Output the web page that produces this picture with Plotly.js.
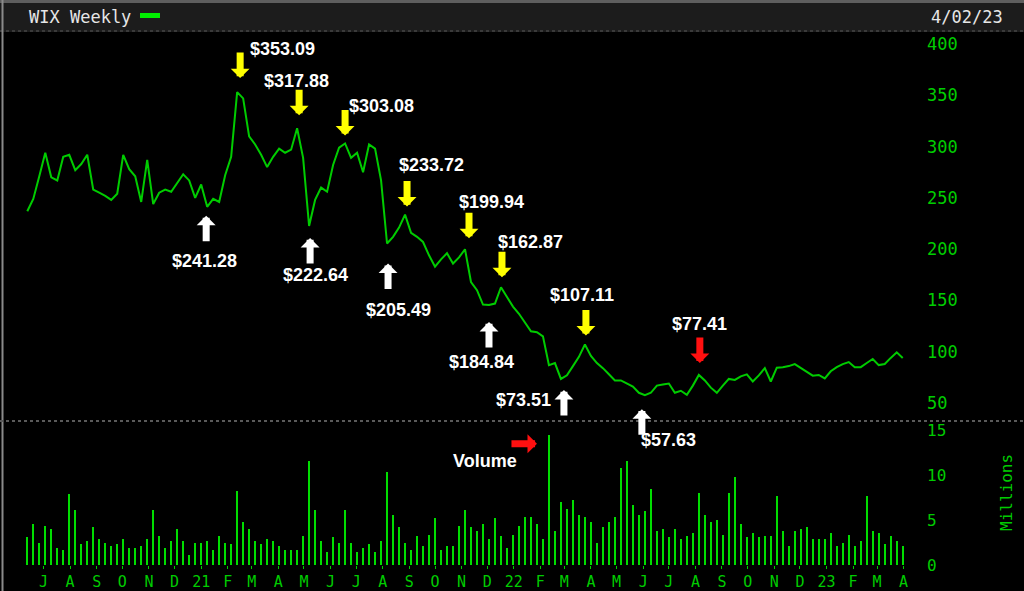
<!DOCTYPE html>
<html><head><meta charset="utf-8">
<script src="https://cdn.plot.ly/plotly-3.0.1.min.js"></script>
<style>html,body{margin:0;padding:0;background:#000;overflow:hidden}#chart{width:1024px;height:591px}</style>
</head><body><div id="chart"></div>
<script>
// ---- data (weekly closes and volumes) ----
const firstWeek = '2020-06-12';
const price = [
237,249,271,294,270,267,290,292,277,283,
292,258,255,252,248,254,292,278,271,246,
287,244,255,258,256,264,273,267,250,263,
241.28,249,246,272,290,353.09,347,310,302,292,
280,290,298,294,297,317.88,289,222.64,248,260,
256,282,299,303.08,289,294,275,302,298,267,
205.49,212,221,233.72,216,212,207,194,183,190,
196,186,192,199.94,168,160,146,145.6,147,162.87,
154,144,137,129,120,119,115,87,89,73.51,
77,86,95,107.11,96,89,84,78,72,72,
69,66,60,57.63,60,67,68,69,60,62,
58,67,77.41,72,65,60,67,73.5,72.5,76,
78,71,77,84,71,84.5,85,86,88,84,
80.6,76.7,77.4,74,81,85,88,90,85,85,
89,93,87,88,94,99.5,94
];
const volume = [
3.1,4.6,2.5,4.4,4.0,1.9,1.7,7.9,6.2,2.3,
2.7,4.2,2.9,2.5,2.1,2.3,2.9,1.9,1.9,2.1,
2.9,6.2,3.2,1.9,2.7,4.0,2.7,1.1,2.5,2.5,
2.7,1.7,3.2,2.5,2.3,8.3,4.8,4.0,2.7,2.3,
2.9,2.7,2.1,1.7,1.7,1.7,3.2,11.6,6.2,2.7,
1.5,3.1,2.5,6.2,2.5,1.5,1.9,2.3,1.5,2.7,
10.4,5.6,4.2,2.5,1.7,3.2,2.1,3.4,5.2,1.7,
2.1,2.1,4.4,6.2,4.2,3.8,4.6,2.9,5.2,3.2,
1.9,3.4,4.4,5.4,5.4,4.6,2.9,14.5,3.8,7.1,
6.3,7.3,5.6,5.4,4.8,2.5,4.2,4.8,5.4,10.8,
11.6,6.7,5.6,6.0,8.5,3.8,4.0,3.1,4.0,2.9,
3.2,3.6,8.1,5.6,4.8,5.0,3.4,8.1,9.8,4.6,
3.1,3.6,3.1,3.2,3.2,7.7,3.8,2.1,3.8,4.0,
4.2,2.9,2.9,2.9,3.6,2.1,2.5,3.4,2.1,2.7,
7.7,3.8,3.6,2.3,3.2,2.7,2.1
];
const monthTicks = [
'2020-07-01','2020-08-01','2020-09-01','2020-10-01','2020-11-01','2020-12-01',
'2021-01-01','2021-02-01','2021-03-01','2021-04-01','2021-05-01','2021-06-01',
'2021-07-01','2021-08-01','2021-09-01','2021-10-01','2021-11-01','2021-12-01',
'2022-01-01','2022-02-01','2022-03-01','2022-04-01','2022-05-01','2022-06-01',
'2022-07-01','2022-08-01','2022-09-01','2022-10-01','2022-11-01','2022-12-01',
'2023-01-01','2023-02-01','2023-03-01','2023-04-01'
];
const monthLabels = ['J','A','S','O','N','D','21','F','M','A','M','J','J','A','S','O','N','D',
'22','F','M','A','M','J','J','A','S','O','N','D','23','F','M','A'];
const priceTicks = [50,100,150,200,250,300,350,400];
const volumeTicks = [0,5,10,15];
// marked turning points: week index, label
const peakWeeks = [35,45,53,63,73,79,93];
const peakLabels = ['$353.09','$317.88','$303.08','$233.72','$199.94','$162.87','$107.11'];
const lowWeeks = [30,47,60,77,89,103];
const lowLabels = ['$241.28','$222.64','$205.49','$184.84','$73.51','$57.63'];
const redWeek = 112, redLabel = '$77.41';
const volWeek = 87, volLabel = 'Volume';
const titleText = 'WIX Weekly', dateText = '4/02/23', unitText = 'Millions';

// ---- build weekly dates ----
const DAY = 86400000;
const t0 = Date.parse(firstWeek + 'T00:00:00Z');
const weeks = price.map((_, i) => new Date(t0 + i * 7 * DAY).toISOString().slice(0, 10));

// ---- geometry helpers (pixel -> paper) ----
const L = 8, R = 98, T = 33, B = 26, Wd = 1024, Ht = 591;
const PW = Wd - L - R, PH = Ht - T - B;
const px = v => (v - L) / PW;
const py = v => (Ht - B - v) / PH;
const splitY = py(421);
const pxPerDay = 6 / 7;
const xr = [new Date(t0 - (19.3 / pxPerDay) * DAY).toISOString(),
            new Date(t0 + (price.length - 1) * 7 * DAY + (23.3 / pxPerDay) * DAY).toISOString()];

const GREEN = '#00cc00';
const mono = 'DejaVu Sans Mono';
const traces = [
  {type:'scatter', mode:'lines', x:weeks, y:price, xaxis:'x', yaxis:'y',
   line:{color:'#00cc00', width:2}, hoverinfo:'skip'},
  {type:'bar', x:weeks, y:volume, xaxis:'x', yaxis:'y2',
   marker:{color:'#00dd00', line:{width:0}}, width:2*DAY, hoverinfo:'skip'}
];

const ann = [];
const lblFont = {family:'Liberation Sans, Arial, sans-serif', size:18, color:'#ffffff', weight:'bold'};
const ALEN = 27;
function arrow(w, yv, yref, color, ax, ay, standoff, xs) {
  ann.push({x:weeks[w], y:yv, xref:'x', yref:yref, text:'', showarrow:true,
    arrowcolor:color, arrowwidth:7, arrowhead:1, arrowsize:0.45,
    ax:ax, ay:ay, standoff:standoff, xshift:xs||0, font:{size:1}});
}
function label(w, yv, yref, txt, dx, dy) {
  ann.push({x:weeks[w], y:yv, xref:'x', yref:yref, text:'<b>'+txt+'</b>', showarrow:false,
    xshift:dx, yshift:dy, xanchor:'center', yanchor:'middle', font:lblFont});
}
// peaks: yellow down arrows
const peakArrow = [[3,14],[2,13],[0,8],[2,8],[4,11],[1,10],[1,9]];
const peakLbl = [[45,43],[-1,47],[36,37],[26,50],[26,47],[30,45],[-3,49]];
peakWeeks.forEach((w,i) => {
  arrow(w, price[w], 'y', '#ffff00', 0, -(peakArrow[i][1]+ALEN), peakArrow[i][1], peakArrow[i][0]);
  label(w, price[w], 'y', peakLabels[i], peakLbl[i][0], peakLbl[i][1]);
});
// lows: white up arrows
const lowArrow = [[-1,9],[1,12],[1,20],[0,17],[3,11],[-3,14]];
const lowLbl = [[-3,-54],[6,-49],[11,-66],[-7,-57],[-37,-21],[24,-45]];
lowWeeks.forEach((w,i) => {
  arrow(w, price[w], 'y', '#ffffff', 0, lowArrow[i][1]+ALEN, lowArrow[i][1], lowArrow[i][0]);
  label(w, price[w], 'y', lowLabels[i], lowLbl[i][0], lowLbl[i][1]);
});
// red marker
arrow(redWeek, price[redWeek], 'y', '#ff1010', 0, -(12+ALEN), 12, 1);
label(redWeek, price[redWeek], 'y', redLabel, 1, 51);
// volume pointer
arrow(volWeek, 13.55, 'y2', '#ff1010', -(12+ALEN), 0, 12, 0);
label(volWeek, 13.55, 'y2', volLabel, -64, -17);

// header texts
ann.push({xref:'paper', yref:'paper', x:px(27), y:py(17), xanchor:'left', yanchor:'middle',
  text:titleText, showarrow:false, font:{family:mono, size:17, color:'#e6e6e6'}});
ann.push({xref:'paper', yref:'paper', x:px(1005), y:py(17), xanchor:'right', yanchor:'middle',
  text:dateText, showarrow:false, font:{family:mono, size:17, color:'#e6e6e6'}});
ann.push({xref:'paper', yref:'paper', x:px(1006), y:py(493), xanchor:'center', yanchor:'middle',
  text:unitText, textangle:-90, showarrow:false, font:{family:mono, size:16, color:GREEN}});

const shapes = [
  {type:'rect', xref:'paper', yref:'paper', x0:px(0), x1:px(1024), y0:py(32), y1:py(0),
   fillcolor:'#1c1c1c', line:{width:0}, layer:'below'},
  {type:'line', xref:'paper', yref:'paper', x0:px(0), x1:px(1024), y0:py(1.5), y1:py(1.5),
   line:{color:'#5e5e5e', width:3}},
  {type:'line', xref:'paper', yref:'paper', x0:px(0), x1:px(1024), y0:py(31), y1:py(31),
   line:{color:'#3a3a3a', width:2, dash:'dot'}},
  {type:'line', xref:'paper', yref:'paper', x0:px(2.5), x1:px(2.5), y0:py(0), y1:py(591),
   line:{color:'#8a8a8a', width:2}},
  {type:'line', xref:'paper', yref:'paper', x0:px(0), x1:px(1024), y0:splitY, y1:splitY,
   line:{color:'#5a5a5a', width:2, dash:'dot'}},
  {type:'rect', xref:'paper', yref:'paper', x0:px(140), x1:px(160), y0:py(18), y1:py(13),
   fillcolor:'#00ee00', line:{width:0}}
];

const layout = {
  width:Wd, height:Ht, margin:{l:L, r:R, t:T, b:B, pad:0},
  paper_bgcolor:'#000000', plot_bgcolor:'#000000', showlegend:false,
  bargap:0,
  xaxis:{type:'date', range:xr, anchor:'y2', tickmode:'array', tickvals:monthTicks, ticktext:monthLabels,
    ticks:'outside', ticklen:3, tickwidth:1, tickcolor:GREEN,
    tickfont:{family:mono, size:15, color:GREEN}, showgrid:false, zeroline:false, showline:false, fixedrange:true},
  yaxis:{domain:[splitY,1], range:[32.5,410.7], side:'right', anchor:'x', tickmode:'array', tickvals:priceTicks,
    ticks:'', tickfont:{family:mono, size:17, color:GREEN}, showgrid:false, zeroline:false, showline:false},
  yaxis2:{domain:[0,splitY], range:[0,16.1], side:'right', anchor:'x', tickmode:'array', tickvals:volumeTicks,
    ticks:'', tickfont:{family:mono, size:16, color:GREEN}, showgrid:false, zeroline:false, showline:false},
  annotations:ann, shapes:shapes
};
Plotly.newPlot('chart', traces, layout, {staticPlot:true, displayModeBar:false});
</script></body></html>
